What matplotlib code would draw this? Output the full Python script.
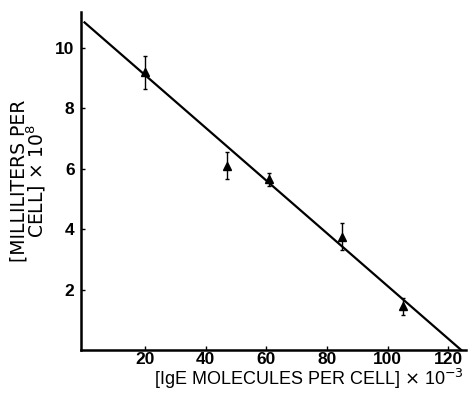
import matplotlib
matplotlib.use('Agg')
import matplotlib.pyplot as plt

# Measured points (IgE molecules per cell x 10^-3, milliliters per cell x 10^8)
ige = [20, 47, 61, 85, 105]
ml = [9.2, 6.1, 5.65, 3.75, 1.45]
err = [0.55, 0.45, 0.22, 0.45, 0.28]

# Fitted line endpoints
line_x = [0, 124.3]
line_y = [10.85, 0]

plt.rcParams['font.family'] = ['Liberation Sans', 'DejaVu Sans']

fig = plt.figure(figsize=(4.71, 3.95), dpi=100)
ax = fig.add_axes([0.173, 0.114, 0.817, 0.856])

ax.plot(line_x, line_y, color='black', lw=1.6)
ax.errorbar(ige, ml, yerr=err, fmt='^', color='black', ms=6,
            elinewidth=1, capsize=1.5, capthick=1)

ax.set_xlim(-1, 126)
ax.set_ylim(0, 11.2)
ax.set_xticks([20, 40, 60, 80, 100, 120])
ax.set_yticks([2, 4, 6, 8, 10])
ax.spines['top'].set_visible(False)
ax.spines['right'].set_visible(False)
ax.spines['left'].set_linewidth(1.8)
ax.spines['bottom'].set_linewidth(1.8)
ax.tick_params(direction='in', length=3, width=1, labelsize=12.5)
ax.tick_params(axis='x', pad=1.5)
ax.tick_params(axis='y', pad=5)
for lbl in ax.get_xticklabels() + ax.get_yticklabels():
    lbl.set_fontweight('bold')

ax.set_xlabel('[IgE MOLECULES PER CELL] $\\times$ 10$^{-3}$', fontsize=13)
ax.xaxis.set_label_coords(0.59, -0.05)
ax.set_ylabel('[MILLILITERS PER\nCELL] $\\times$ 10$^{8}$', fontsize=13.5,
              family=['DejaVu Sans'], linespacing=0.78)
ax.yaxis.set_label_coords(-0.088, 0.5)

fig.savefig('out.png', dpi=100)
